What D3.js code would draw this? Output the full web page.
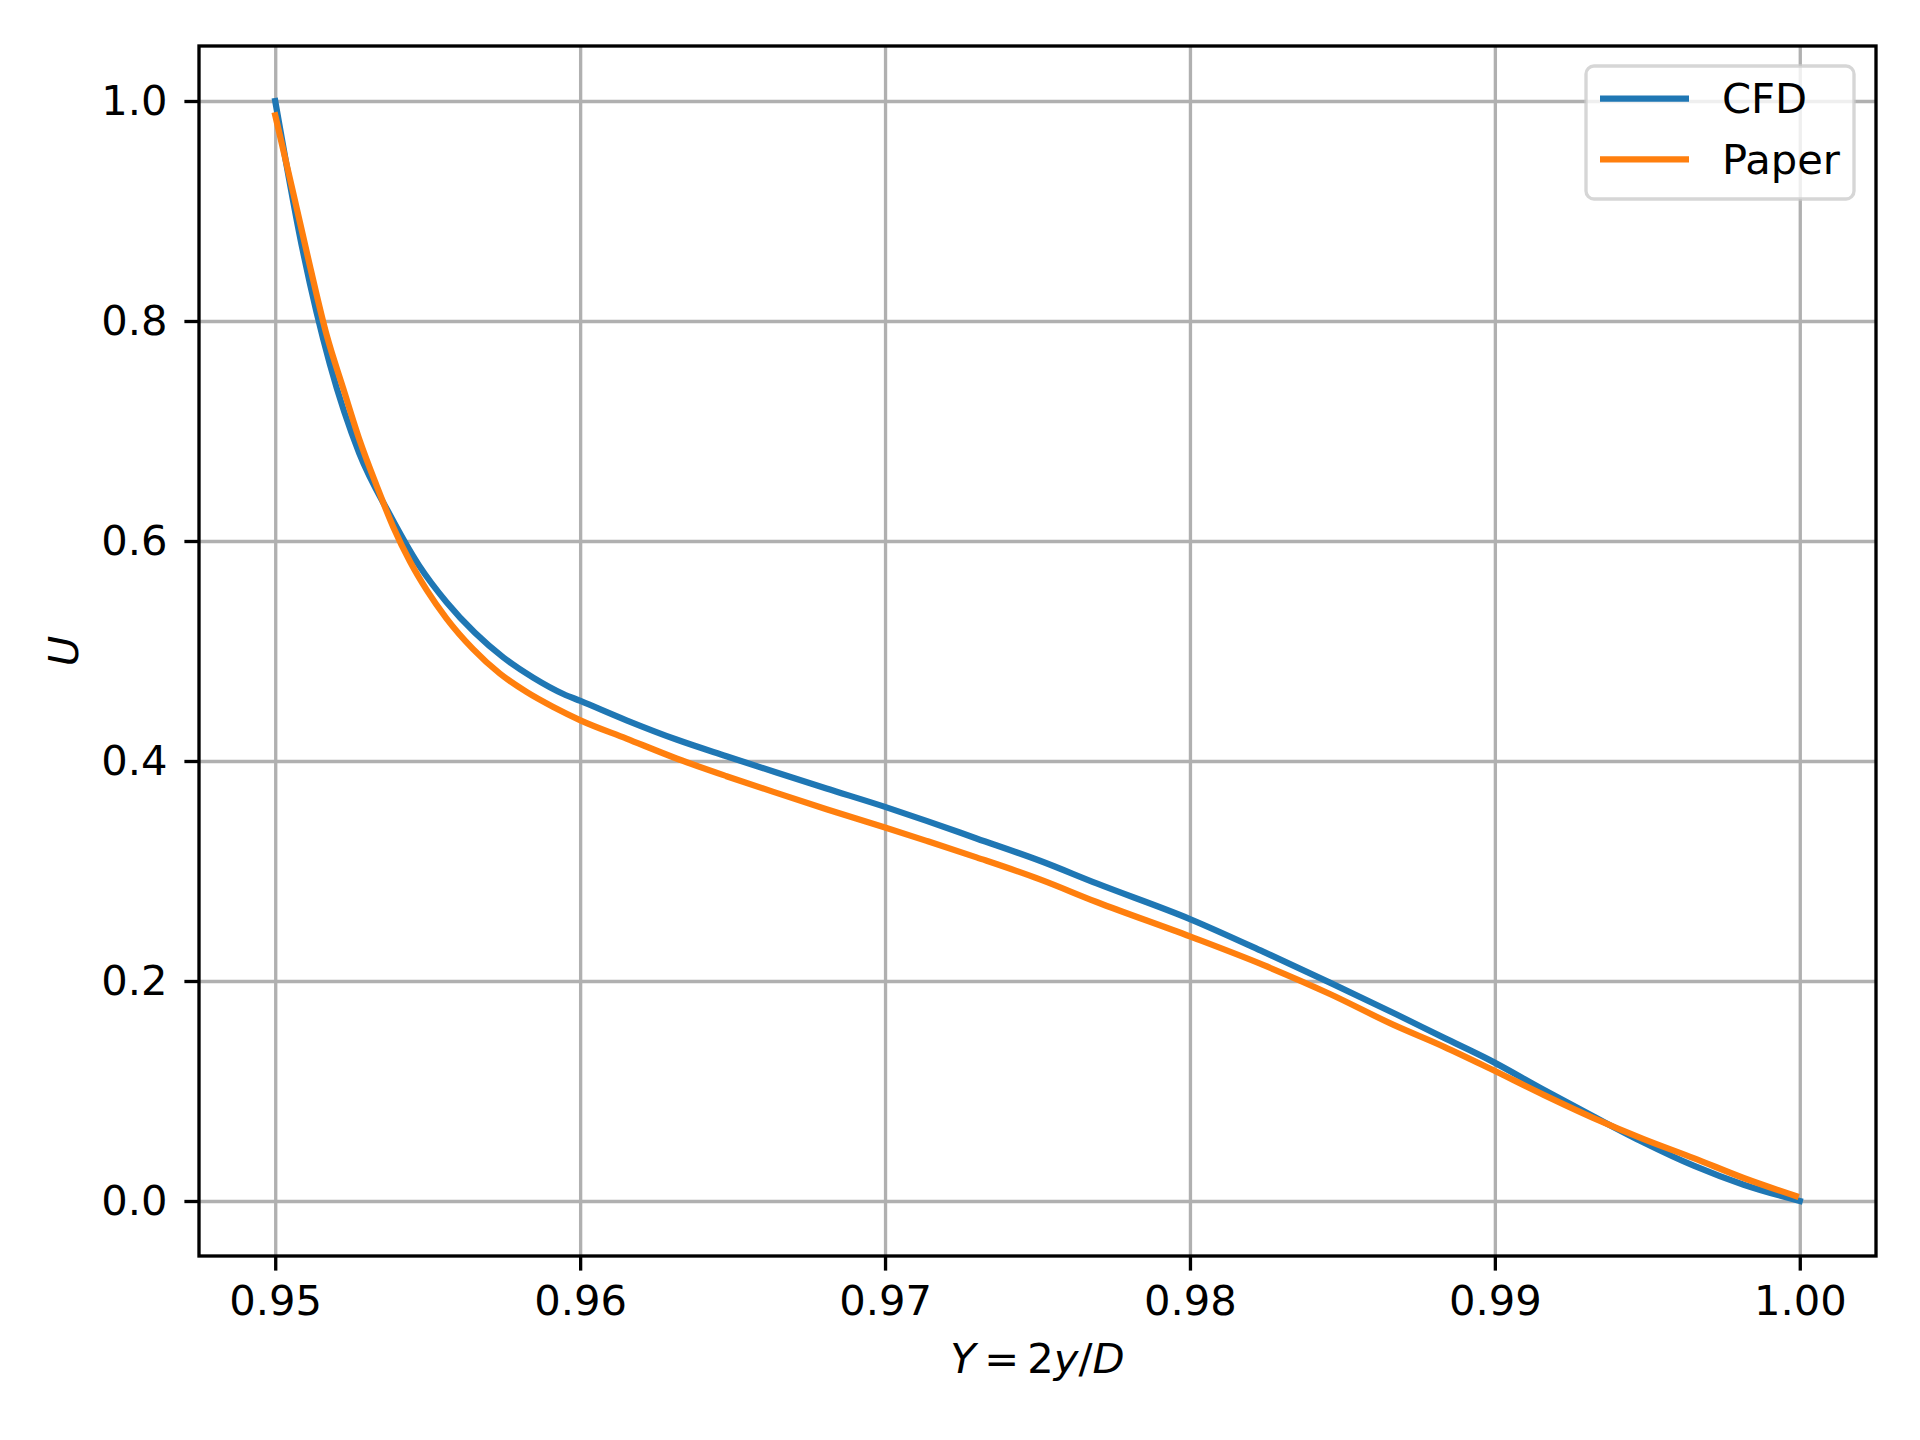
<!DOCTYPE html>
<html>
<head>
<meta charset="utf-8">
<script src="https://cdn.jsdelivr.net/npm/d3@7"></script>
<style>
  body { margin: 0; background: #fff; }
  svg { display: block; font-family: "DejaVu Sans", sans-serif; }
</style>
</head>
<body>
<svg id="chart"></svg>
<script>
// Data
const cfdY = [0.95000, 0.95090, 0.95179, 0.95276, 0.95376, 0.95472, 0.95562, 0.95655, 0.95748, 0.95846,
  0.95945, 0.96001, 0.96152, 0.96316, 0.96480, 0.96644, 0.96808, 0.97000, 0.97136, 0.97300,
  0.97508, 0.97694, 0.98002, 0.98240, 0.98459, 0.98678, 0.98832, 0.98982, 0.99160, 0.99324,
  0.99488, 0.99652, 0.99816, 1.00000];
const cfdU = [1.000, 0.8646, 0.7609, 0.6795, 0.6239, 0.5776, 0.5443, 0.5165, 0.4942, 0.4758,
  0.4609, 0.4546, 0.4370, 0.4195, 0.4043, 0.3895, 0.3750, 0.3583, 0.3456, 0.3296,
  0.3093, 0.2887, 0.2561, 0.2267, 0.1985, 0.1695, 0.1485, 0.1283, 0.1011, 0.0768,
  0.0532, 0.0321, 0.0148, 0.0000];

const paperY = [0.95000, 0.95059, 0.95114, 0.95169, 0.95223, 0.95278, 0.95333, 0.95387, 0.95442, 0.95497,
  0.95562, 0.95649, 0.95737, 0.95824, 0.95912, 0.96001, 0.96152, 0.96316, 0.96480, 0.96644,
  0.96808, 0.97000, 0.97136, 0.97300, 0.97508, 0.97694, 0.98002, 0.98240, 0.98459, 0.98668,
  0.98832, 0.98982, 0.99160, 0.99324, 0.99488, 0.99652, 0.99816, 0.99987];
const paperU = [0.987, 0.9165, 0.8498, 0.7869, 0.7387, 0.6906, 0.6499, 0.6128, 0.5813, 0.5553,
  0.5295, 0.5017, 0.4794, 0.4628, 0.4491, 0.4370, 0.4204, 0.4023, 0.3862, 0.3710,
  0.3562, 0.3396, 0.3274, 0.3124, 0.2924, 0.2718, 0.2403, 0.2146, 0.1882, 0.1601,
  0.1404, 0.1207, 0.0965, 0.0754, 0.0563, 0.0390, 0.0209, 0.0045];

const xTicks = [0.95, 0.96, 0.97, 0.98, 0.99, 1.00];
const yTicks = [0.0, 0.2, 0.4, 0.6, 0.8, 1.0];
const seriesNames = ['CFD', 'Paper'];
const seriesColors = ['#1f77b4', '#ff7f0e'];

// Layout
const width = 1920, height = 1440;
const margin = {top: 46, right: 44, bottom: 184, left: 199};
const iw = width - margin.left - margin.right;
const ih = height - margin.top - margin.bottom;
const FS = 41.67;
const LW = 3.33;

const svg = d3.select('#chart').attr('width', width).attr('height', height);
const g = svg.append('g').attr('transform', `translate(${margin.left},${margin.top})`);

const x = d3.scaleLinear().domain([0.9475, 1.0025]).range([0, iw]);
const y = d3.scaleLinear().domain([-0.05, 1.05]).range([ih, 0]);

// Grid
const grid = g.append('g');
grid.append('g')
  .attr('transform', `translate(0,${ih})`)
  .call(d3.axisBottom(x).tickValues(xTicks).tickSize(-ih).tickFormat(''));
grid.append('g')
  .call(d3.axisLeft(y).tickValues(yTicks).tickSize(-iw).tickFormat(''));
grid.selectAll('.domain').remove();
grid.selectAll('line').attr('stroke', '#b0b0b0').attr('stroke-width', LW);

// Lines
g.append('clipPath').attr('id', 'clip')
  .append('rect').attr('width', iw).attr('height', ih);

const line = d3.line().x(d => x(d[0])).y(d => y(d[1])).curve(d3.curveMonotoneX);
const series = [
  d3.zip(cfdY, cfdU),
  d3.zip(paperY, paperU)
];
g.append('g').attr('clip-path', 'url(#clip)')
  .selectAll('path')
  .data(series)
  .join('path')
  .attr('d', line)
  .attr('fill', 'none')
  .attr('stroke', (d, i) => seriesColors[i])
  .attr('stroke-width', 6.25)
  .attr('stroke-linecap', 'square')
  .attr('stroke-linejoin', 'round');

// Axes
const gx = g.append('g')
  .attr('transform', `translate(0,${ih})`)
  .call(d3.axisBottom(x).tickValues(xTicks).tickFormat(d3.format('.2f')).tickSize(14.6).tickPadding(15));
const gy = g.append('g')
  .call(d3.axisLeft(y).tickValues(yTicks).tickFormat(d3.format('.1f')).tickSize(14.6).tickPadding(17));
[gx, gy].forEach(a => {
  a.select('.domain').remove();
  a.selectAll('line').attr('stroke', '#000').attr('stroke-width', LW);
  a.selectAll('text').attr('fill', '#000')
    .style('font-size', FS + 'px').style('font-family', '"DejaVu Sans", sans-serif');
});

// Spines
g.append('rect')
  .attr('width', iw).attr('height', ih)
  .attr('fill', 'none').attr('stroke', '#000').attr('stroke-width', LW)
  .attr('stroke-linejoin', 'miter');

// Axis labels
const xl = svg.append('text')
  .attr('x', margin.left + iw / 2)
  .attr('y', 1373)
  .attr('text-anchor', 'middle')
  .style('font-size', FS + 'px');
xl.append('tspan').style('font-style', 'italic').text('Y');
xl.append('tspan').text('\u2009=\u20092');
xl.append('tspan').style('font-style', 'italic').text('y');
xl.append('tspan').text('/');
xl.append('tspan').style('font-style', 'italic').text('D');

svg.append('text')
  .attr('transform', `translate(78,${margin.top + ih / 2}) rotate(-90)`)
  .attr('text-anchor', 'middle')
  .style('font-size', FS + 'px')
  .style('font-style', 'italic')
  .text('U');

// Legend
const legend = svg.append('g');
legend.append('rect')
  .attr('x', 1586).attr('y', 66)
  .attr('width', 268).attr('height', 133)
  .attr('rx', 8).attr('ry', 8)
  .attr('fill', '#fff').attr('fill-opacity', 0.8)
  .attr('stroke', '#cccccc').attr('stroke-opacity', 0.8).attr('stroke-width', LW);
const items = legend.selectAll('g.item')
  .data(seriesNames)
  .join('g')
  .attr('class', 'item')
  .attr('transform', (d, i) => `translate(0,${98.7 + i * 60.6})`);
items.append('line')
  .attr('x1', 1600).attr('x2', 1689)
  .attr('stroke', (d, i) => seriesColors[i])
  .attr('stroke-width', 6.25);
items.append('text')
  .attr('x', 1722).attr('y', 14.5)
  .style('font-size', FS + 'px')
  .text(d => d);
</script>
</body>
</html>
